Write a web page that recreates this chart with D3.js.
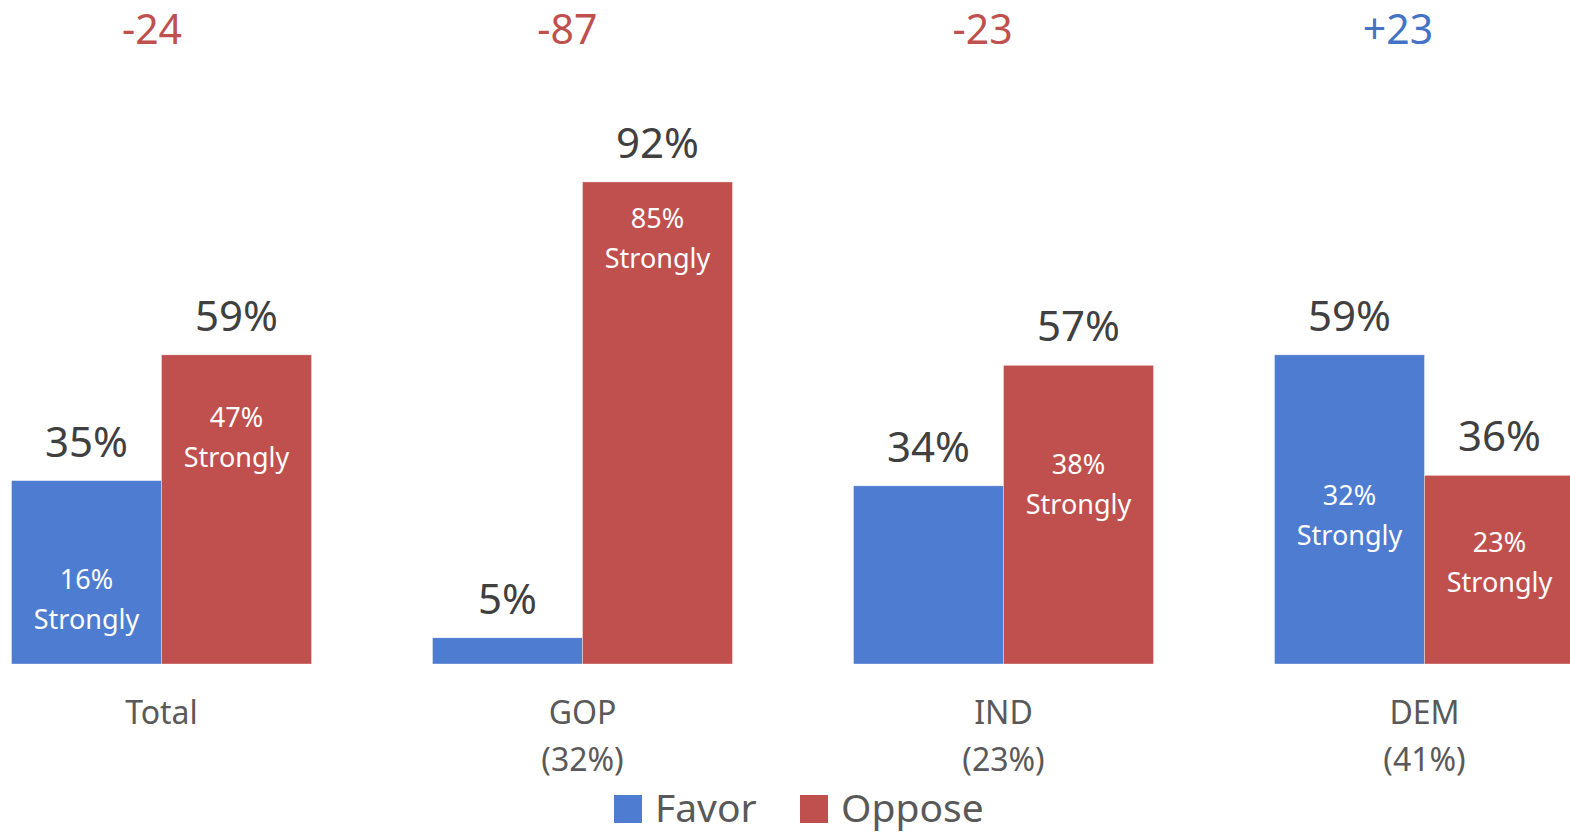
<!DOCTYPE html>
<html lang="en">
<head>
<meta charset="utf-8">
<title>Favor / Oppose by party</title>
<script src="https://cdn.jsdelivr.net/npm/d3@7"></script>
<style>
  body { margin: 0; background: #fff; }
  text { font-family: "Noto Sans", "Open Sans", sans-serif; }
</style>
</head>
<body>
<script>
// data
var groups = ["Total", "GOP", "IND", "DEM"];
var groupSub = ["", "(32%)", "(23%)", "(41%)"];
var series = ["Favor", "Oppose"];
var favor = [35, 5, 34, 59];
var oppose = [59, 92, 57, 36];
var favorStrong = [16, null, null, 32];
var opposeStrong = [47, 85, 38, 23];

var w = 1570, h = 832;
var blue = "#4e7cd1", red = "#c0504d";
var colors = [blue, red];

var svg = d3.select("body").append("svg")
    .attr("width", w)
    .attr("height", h);

// groups run off both edges of the picture, like the original crop
var x0 = d3.scaleBand().domain(groups)
    .range([-49, 1635])
    .paddingInner(0.2874)
    .paddingOuter(0.1437);
var x1 = d3.scaleBand().domain(series).range([0, x0.bandwidth()]);
var y = d3.scaleLinear().domain([0, 100]).range([664, 140]);
// the net labels sit on their own, slightly tighter row
var xTop = d3.scalePoint().domain(groups).range([152, 1398]);

var rows = [];
groups.forEach(function(g, i) {
  rows.push({g: g, s: "Favor", v: favor[i], strong: favorStrong[i], c: 0});
  rows.push({g: g, s: "Oppose", v: oppose[i], strong: opposeStrong[i], c: 1});
});

// bars
svg.selectAll("rect.bar")
  .data(rows)
  .enter().append("rect")
  .attr("class", "bar")
  .attr("x", function(d) { return x0(d.g) + x1(d.s); })
  .attr("y", function(d) { return y(d.v); })
  .attr("width", x1.bandwidth())
  .attr("height", function(d) { return y(0) - y(d.v); })
  .attr("fill", function(d) { return colors[d.c]; })
  .attr("stroke", "#fff")
  .attr("stroke-width", 0.6)
  .attr("stroke-opacity", 0.6);

// value labels above bars
svg.selectAll("text.val")
  .data(rows)
  .enter().append("text")
  .attr("class", "val")
  .attr("x", function(d) { return x0(d.g) + x1(d.s) + x1.bandwidth() / 2; })
  .attr("y", function(d) { return y(d.v) - 24; })
  .attr("text-anchor", "middle")
  .attr("font-size", 42)
  .attr("fill", "#404040")
  .text(function(d) { return d.v + "%"; });

// "strongly" labels inside bars
var inner = svg.selectAll("text.strong")
  .data(rows.filter(function(d) { return d.strong != null; }))
  .enter().append("text")
  .attr("class", "strong")
  .attr("text-anchor", "middle")
  .attr("font-size", 27)
  .attr("fill", "#fff")
  .attr("transform", function(d) {
    return "translate(" + (x0(d.g) + x1(d.s) + x1.bandwidth() / 2) + "," + (y(d.strong) + 9) + ")";
  });
inner.append("tspan").attr("x", 0).attr("y", 0)
  .text(function(d) { return d.strong + "%"; });
inner.append("tspan").attr("x", 0).attr("y", 40)
  .text("Strongly");

// net difference at the top
svg.selectAll("text.net")
  .data(groups)
  .enter().append("text")
  .attr("class", "net")
  .attr("x", function(g) { return xTop(g); })
  .attr("y", 44)
  .attr("text-anchor", "middle")
  .attr("font-size", 41)
  .attr("fill", function(g, i) { return favor[i] - oppose[i] >= 0 ? "#4472c4" : red; })
  .text(function(g, i) {
    var n = favor[i] - oppose[i];
    return (n > 0 ? "+" : "") + n;
  });

// category labels
var cat = svg.selectAll("text.cat")
  .data(groups)
  .enter().append("text")
  .attr("class", "cat")
  .attr("text-anchor", "middle")
  .attr("font-size", 32)
  .attr("fill", "#595959")
  .attr("transform", function(g) { return "translate(" + (x0(g) + x0.bandwidth() / 2) + ",724)"; });
cat.append("tspan").attr("x", 0).attr("y", 0).text(function(g) { return g; });
cat.append("tspan").attr("x", 0).attr("y", 47).text(function(g, i) { return groupSub[i]; });

// legend
var legend = svg.append("g").attr("transform", "translate(614,795)");
var item = legend.selectAll("g")
  .data(series)
  .enter().append("g")
  .attr("transform", function(d, i) { return "translate(" + (i * 186) + ",0)"; });
item.append("rect")
  .attr("width", 28).attr("height", 28)
  .attr("fill", function(d, i) { return colors[i]; });
item.append("text")
  .attr("x", 41).attr("y", 27)
  .attr("font-size", 39)
  .attr("fill", "#595959")
  .text(function(d) { return d; });
</script>
</body>
</html>
